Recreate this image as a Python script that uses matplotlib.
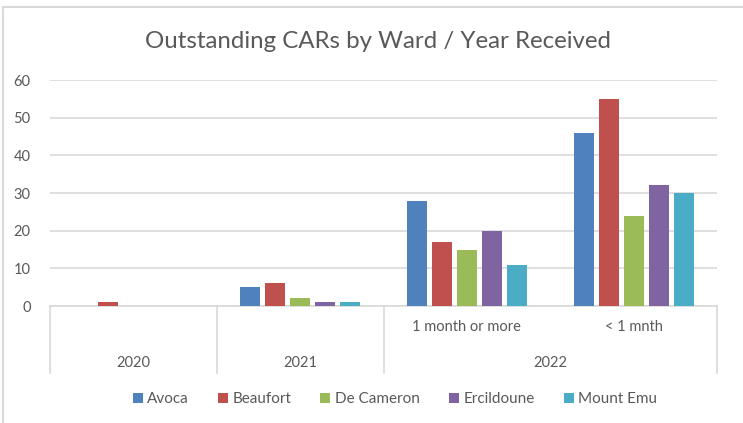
import numpy as np
import matplotlib.pyplot as plt
from matplotlib.lines import Line2D
from matplotlib.patches import Patch

# --- data ---
years = ["2020", "2021", "2022", "2022"]
subcats = ["", "", "1 month or more", "< 1 mnth"]
wards = ["Avoca", "Beaufort", "De Cameron", "Ercildoune", "Mount Emu"]
avoca = [0, 5, 28, 46]
beaufort = [1, 6, 17, 55]
de_cameron = [0, 2, 15, 24]
ercildoune = [0, 1, 20, 32]
mount_emu = [0, 1, 11, 30]

colors = ["#4F81BD", "#C0504D", "#9BBB59", "#8064A2", "#4BACC6"]
series = [avoca, beaufort, de_cameron, ercildoune, mount_emu]
txt = "#595959"
grid = "#D9D9D9"

plt.rcParams["font.family"] = ["Lato", "DejaVu Sans"]

W, H = 743, 423
fig = plt.figure(figsize=(W / 100, H / 100), dpi=100)
ax = fig.add_axes([50 / W, 1 - 306 / H, (717 - 50) / W, (306 - 80) / H])

x = np.arange(len(years))
step, width = 0.15, 0.12
for i, (vals, c) in enumerate(zip(series, colors)):
    ax.bar(x + (i - 2) * step, vals, width=width, color=c, zorder=3)

ax.set_xlim(-0.5, len(years) - 0.5)
ax.set_ylim(0, 60)
ax.set_yticks(range(0, 61, 10))
ax.yaxis.grid(True, color=grid, linewidth=1.2, zorder=0)
ax.tick_params(axis="y", length=0, pad=14, labelsize=10.5, labelcolor=txt)
ax.tick_params(axis="x", length=0, labelbottom=False)
for s in ["top", "right", "left"]:
    ax.spines[s].set_visible(False)
ax.spines["bottom"].set_color(grid)
ax.spines["bottom"].set_linewidth(1.2)

# multi-level category axis
trans = ax.get_xaxis_transform()
box_bottom = -(373 - 306) / 226
for xb in [-0.5, 0.5, 1.5, 3.5]:
    ax.add_line(Line2D([xb, xb], [0, box_bottom], transform=trans,
                       color=grid, linewidth=1.2, clip_on=False))
for xi, sc in zip(x, subcats):
    if sc:
        ax.text(xi, -(327 - 306) / 226, sc, transform=trans, ha="center",
                va="center", fontsize=10.5, color=txt)
year_pos = {}
for xi, yr in zip(x, years):
    year_pos.setdefault(yr, []).append(xi)
for yr, xs in year_pos.items():
    ax.text(np.mean(xs), -(363 - 306) / 226, yr, transform=trans, ha="center",
            va="center", fontsize=10.5, color=txt)

fig.text(378 / W, 1 - 42 / H, "Outstanding CARs by Ward / Year Received",
         ha="center", va="center", fontsize=17.3, color=txt)

handles = [Patch(facecolor=c, edgecolor="none") for c in colors]
fig.legend(handles, wards, loc="center", bbox_to_anchor=(395 / W, 1 - 399 / H),
           ncol=5, frameon=False, fontsize=11, labelcolor=txt,
           handlelength=0.65, handleheight=0.65, handletextpad=0.3,
           columnspacing=1.9)

# chart frame (top and left edges visible in the reference)
fig.add_artist(Line2D([3 / W, 3 / W], [0, 1 - 7 / H], transform=fig.transFigure,
                      color=grid, linewidth=1.5))
fig.add_artist(Line2D([3 / W, 1], [1 - 7 / H, 1 - 7 / H], transform=fig.transFigure,
                      color=grid, linewidth=1.5))

fig.savefig("out.png", dpi=100)
